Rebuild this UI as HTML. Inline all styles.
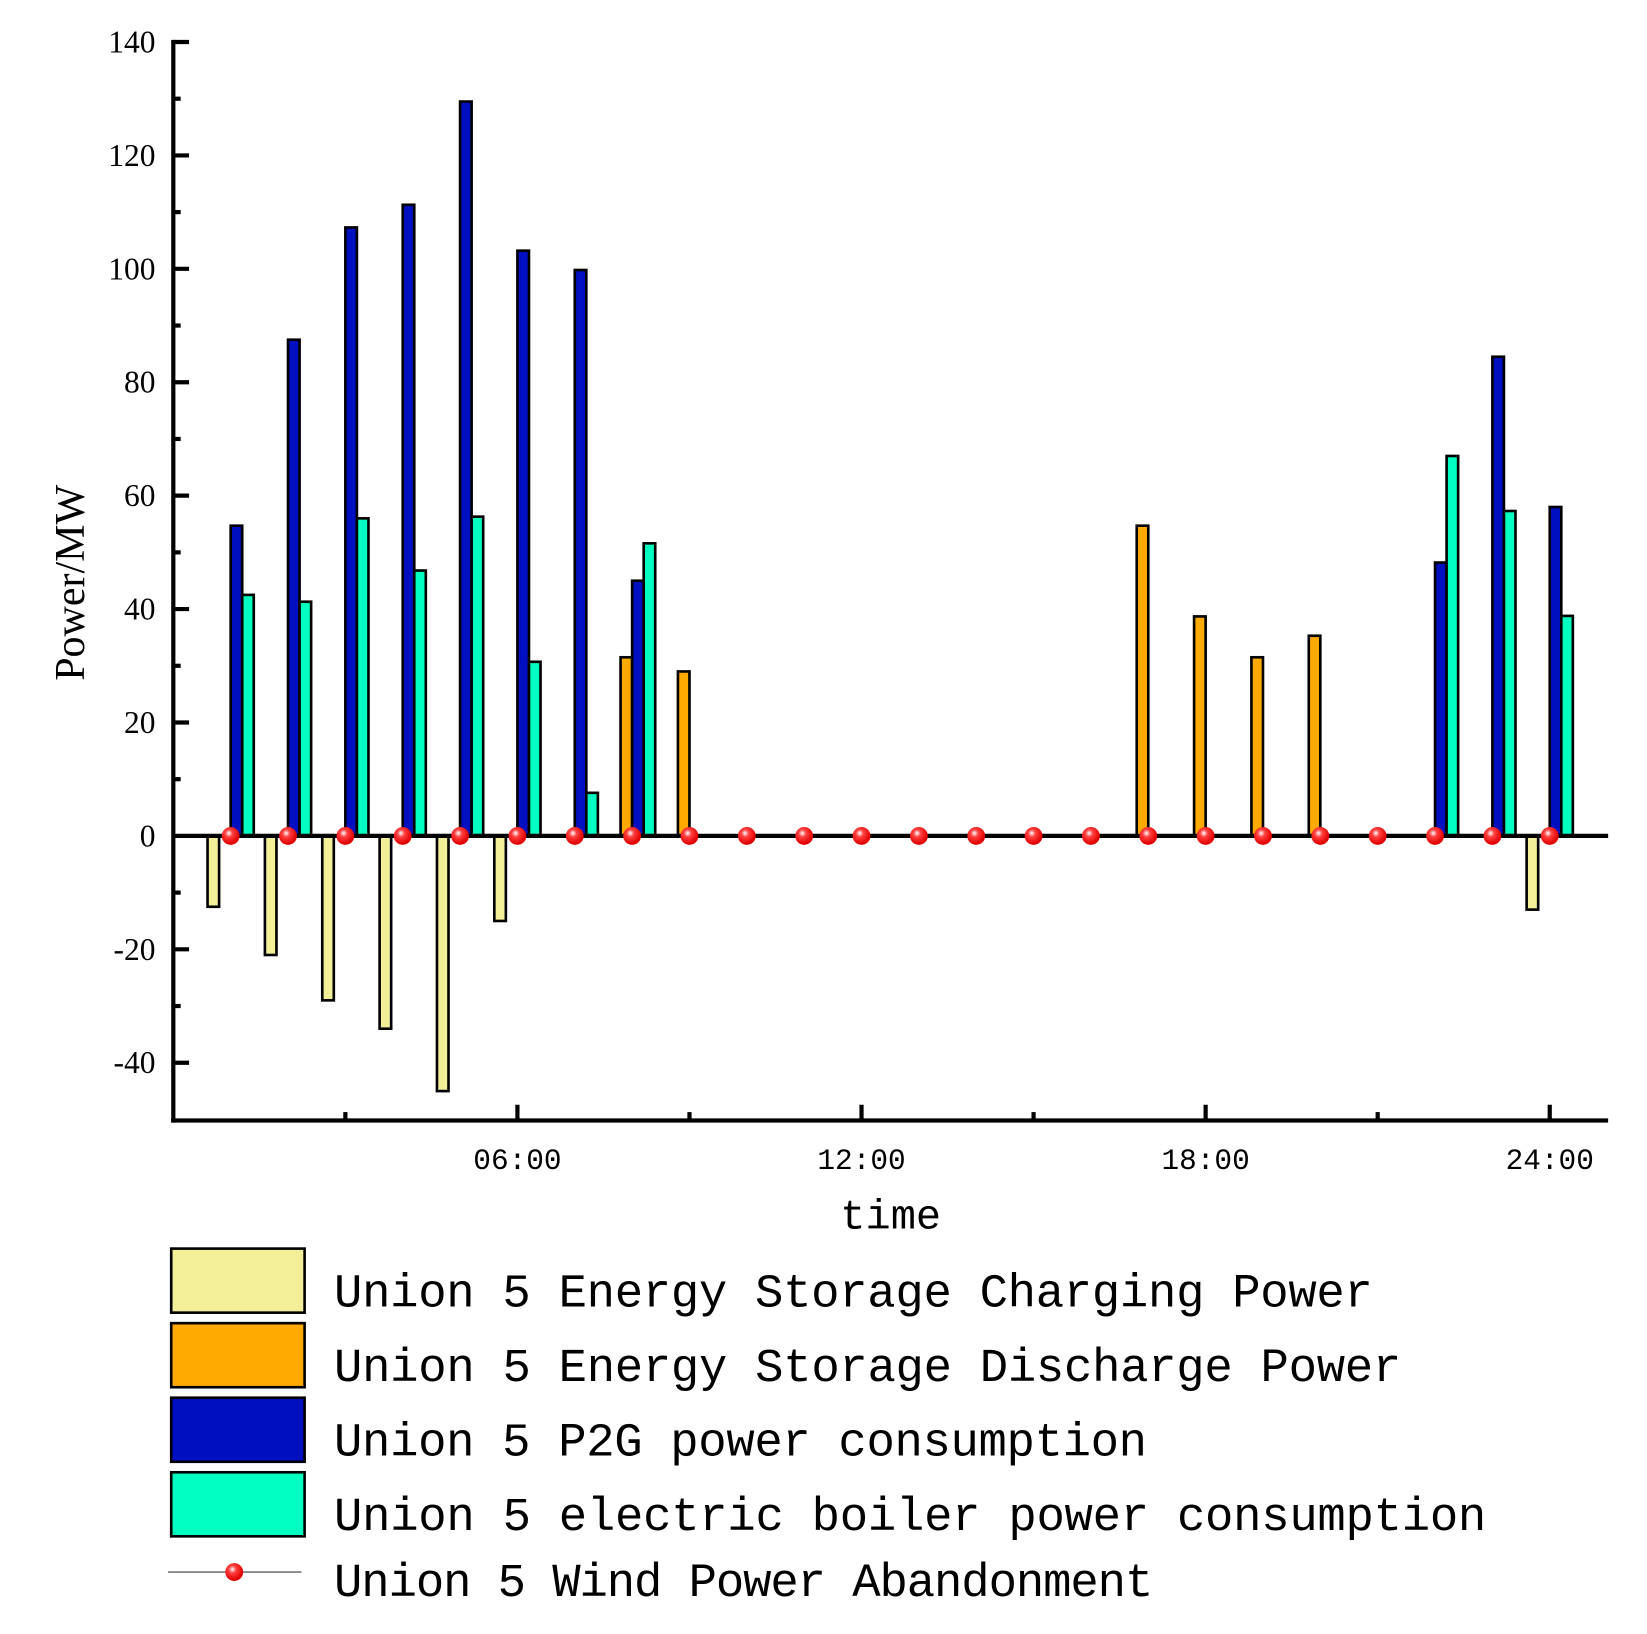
<!DOCTYPE html>
<html><head><meta charset="utf-8"><style>html,body{margin:0;padding:0;background:#fff}svg{display:block}</style></head>
<body>
<svg width="1647" height="1634" viewBox="0 0 1568 1556" preserveAspectRatio="none" xmlns="http://www.w3.org/2000/svg">
<defs><radialGradient id="g" cx="0.4" cy="0.35" r="0.6"><stop offset="0" stop-color="#fff"/><stop offset="0.35" stop-color="#ff4040"/><stop offset="1" stop-color="#e00000"/></radialGradient></defs>
<g stroke="#000" stroke-width="2.5">
<g fill="#f3ee98">
<rect x="197.6" y="796" width="11" height="67.5"/>
<rect x="252.2" y="796" width="11" height="113.4"/>
<rect x="306.8" y="796" width="11" height="156.6"/>
<rect x="361.4" y="796" width="11" height="183.6"/>
<rect x="416" y="796" width="11" height="243"/>
<rect x="470.6" y="796" width="11" height="81"/>
<rect x="1453.4" y="796" width="11" height="70.2"/>
</g>
<g fill="#ffaa00">
<rect x="590.8" y="625.9" width="11" height="170.1"/>
<rect x="645.4" y="639.4" width="11" height="156.6"/>
<rect x="1082.2" y="500.6" width="11" height="295.4"/>
<rect x="1136.8" y="587" width="11" height="209"/>
<rect x="1191.4" y="625.9" width="11" height="170.1"/>
<rect x="1246" y="605.4" width="11" height="190.6"/>
</g>
<g fill="#0010c0">
<rect x="219.6" y="500.6" width="11" height="295.4"/>
<rect x="274.2" y="323.5" width="11" height="472.5"/>
<rect x="328.8" y="216.6" width="11" height="579.4"/>
<rect x="383.4" y="195" width="11" height="601"/>
<rect x="438" y="96.7" width="11" height="699.3"/>
<rect x="492.6" y="238.7" width="11" height="557.3"/>
<rect x="547.2" y="257.1" width="11" height="538.9"/>
<rect x="601.8" y="553" width="11" height="243"/>
<rect x="1366.2" y="535.7" width="11" height="260.3"/>
<rect x="1420.8" y="339.7" width="11" height="456.3"/>
<rect x="1475.4" y="482.8" width="11" height="313.2"/>
</g>
<g fill="#00ffc0">
<rect x="230.6" y="566.5" width="11" height="229.5"/>
<rect x="285.2" y="573" width="11" height="223"/>
<rect x="339.8" y="493.6" width="11" height="302.4"/>
<rect x="394.4" y="543.3" width="11" height="252.7"/>
<rect x="449" y="492" width="11" height="304"/>
<rect x="503.6" y="630.2" width="11" height="165.8"/>
<rect x="558.2" y="755" width="11" height="41"/>
<rect x="612.8" y="517.4" width="11" height="278.6"/>
<rect x="1377.2" y="434.2" width="11" height="361.8"/>
<rect x="1431.8" y="486.6" width="11" height="309.4"/>
<rect x="1486.4" y="586.5" width="11" height="209.5"/>
</g>
</g>
<g stroke="#000" stroke-width="4">
<line x1="165" y1="796" x2="1531" y2="796"/>
<line x1="165" y1="38" x2="165" y2="1069"/>
<line x1="163" y1="1067" x2="1531" y2="1067"/>
<line x1="165" y1="1012" x2="180" y2="1012"/><line x1="165" y1="958" x2="172" y2="958"/>
<line x1="165" y1="904" x2="180" y2="904"/><line x1="165" y1="850" x2="172" y2="850"/>
<line x1="165" y1="742" x2="172" y2="742"/><line x1="165" y1="688" x2="180" y2="688"/>
<line x1="165" y1="634" x2="172" y2="634"/><line x1="165" y1="580" x2="180" y2="580"/>
<line x1="165" y1="526" x2="172" y2="526"/><line x1="165" y1="472" x2="180" y2="472"/>
<line x1="165" y1="418" x2="172" y2="418"/><line x1="165" y1="364" x2="180" y2="364"/>
<line x1="165" y1="310" x2="172" y2="310"/><line x1="165" y1="256" x2="180" y2="256"/>
<line x1="165" y1="202" x2="172" y2="202"/><line x1="165" y1="148" x2="180" y2="148"/>
<line x1="165" y1="94" x2="172" y2="94"/><line x1="165" y1="40" x2="180" y2="40"/>
<line x1="328.8" y1="1067" x2="328.8" y2="1059"/><line x1="492.6" y1="1067" x2="492.6" y2="1052"/>
<line x1="656.4" y1="1067" x2="656.4" y2="1059"/><line x1="820.2" y1="1067" x2="820.2" y2="1052"/>
<line x1="984" y1="1067" x2="984" y2="1059"/><line x1="1147.8" y1="1067" x2="1147.8" y2="1052"/>
<line x1="1311.6" y1="1067" x2="1311.6" y2="1059"/><line x1="1475.4" y1="1067" x2="1475.4" y2="1052"/>
</g>
<g font-family="Liberation Serif,serif" font-size="30" text-anchor="end">
<text x="148" y="1022">-40</text><text x="148" y="914">-20</text><text x="148" y="806">0</text>
<text x="148" y="698">20</text><text x="148" y="590">40</text><text x="148" y="482">60</text>
<text x="148" y="374">80</text><text x="148" y="266">100</text><text x="148" y="158">120</text><text x="148" y="50">140</text>
</g>
<g font-family="Liberation Mono,monospace" font-size="28" text-anchor="middle">
<text x="492.6" y="1113">06:00</text><text x="820.2" y="1113">12:00</text><text x="1147.8" y="1113">18:00</text><text x="1475.4" y="1113">24:00</text>
</g>
<g fill="url(#g)">
<circle cx="219.6" cy="796" r="8.5"/><circle cx="274.2" cy="796" r="8.5"/><circle cx="328.8" cy="796" r="8.5"/><circle cx="383.4" cy="796" r="8.5"/>
<circle cx="438" cy="796" r="8.5"/><circle cx="492.6" cy="796" r="8.5"/><circle cx="547.2" cy="796" r="8.5"/><circle cx="601.8" cy="796" r="8.5"/>
<circle cx="656.4" cy="796" r="8.5"/><circle cx="711" cy="796" r="8.5"/><circle cx="765.6" cy="796" r="8.5"/><circle cx="820.2" cy="796" r="8.5"/>
<circle cx="874.8" cy="796" r="8.5"/><circle cx="929.4" cy="796" r="8.5"/><circle cx="984" cy="796" r="8.5"/><circle cx="1038.6" cy="796" r="8.5"/>
<circle cx="1093.2" cy="796" r="8.5"/><circle cx="1147.8" cy="796" r="8.5"/><circle cx="1202.4" cy="796" r="8.5"/><circle cx="1257" cy="796" r="8.5"/>
<circle cx="1311.6" cy="796" r="8.5"/><circle cx="1366.2" cy="796" r="8.5"/><circle cx="1420.8" cy="796" r="8.5"/><circle cx="1475.4" cy="796" r="8.5"/>
</g>
<text x="848" y="1170" text-anchor="middle" font-family="Liberation Mono,monospace" font-size="40">time</text>
<text transform="translate(80,555) rotate(-90)" text-anchor="middle" font-family="Liberation Serif,serif" font-size="40">Power/MW</text>
<g stroke="#000" stroke-width="2.5">
<rect x="163" y="1189" width="127" height="61" fill="#f3ee98"/>
<rect x="163" y="1260" width="127" height="61" fill="#ffaa00"/>
<rect x="163" y="1331" width="127" height="61" fill="#0010c0"/>
<rect x="163" y="1402" width="127" height="61" fill="#00ffc0"/>
</g>
<line x1="160" y1="1497" x2="287" y2="1497" stroke="#777" stroke-width="1.5"/>
<circle cx="223" cy="1497" r="8.5" fill="url(#g)"/>
<g font-family="Liberation Mono,monospace" font-size="45">
<text x="318" y="1244" textLength="989">Union 5 Energy Storage Charging Power</text>
<text x="318" y="1315" textLength="1016">Union 5 Energy Storage Discharge Power</text>
<text x="318" y="1386" textLength="774">Union 5 P2G power consumption</text>
<text x="318" y="1457" textLength="1097">Union 5 electric boiler power consumption</text>
<text x="318" y="1520" textLength="780">Union 5 Wind Power Abandonment</text>
</g>
</svg>
</body></html>
